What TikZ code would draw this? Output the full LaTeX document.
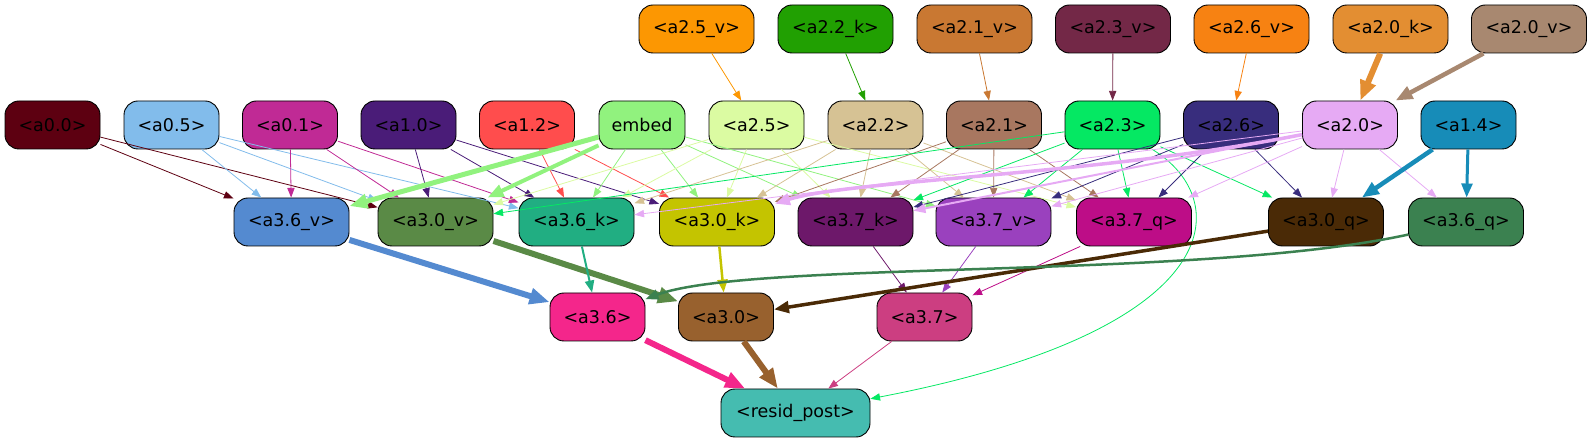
\documentclass[tikz,border=0pt]{standalone}
\usepackage{fontspec}
\setmainfont{DejaVu Sans}
\usetikzlibrary{arrows.meta}
\definecolor{cA00}{HTML}{5D0011}
\definecolor{cA05}{HTML}{82BCEB}
\definecolor{cA01}{HTML}{C02A95}
\definecolor{cA10}{HTML}{4A1C78}
\definecolor{cA12}{HTML}{FF4D4D}
\definecolor{cEmb}{HTML}{91F27E}
\definecolor{cA25}{HTML}{DBFBA2}
\definecolor{cA22}{HTML}{D6C294}
\definecolor{cA21}{HTML}{A87760}
\definecolor{cA23}{HTML}{05E863}
\definecolor{cA26}{HTML}{382D7D}
\definecolor{cA20}{HTML}{E6AAF4}
\definecolor{cA14}{HTML}{178CB8}
\definecolor{cA25v}{HTML}{FC9702}
\definecolor{cA22k}{HTML}{21A002}
\definecolor{cA21v}{HTML}{C97832}
\definecolor{cA23v}{HTML}{732847}
\definecolor{cA26v}{HTML}{F78212}
\definecolor{cA20k}{HTML}{E38E32}
\definecolor{cA20v}{HTML}{A88870}
\definecolor{cA36v}{HTML}{548AD0}
\definecolor{cA30v}{HTML}{5A8A46}
\definecolor{cA36k}{HTML}{21AE82}
\definecolor{cA30k}{HTML}{C4C400}
\definecolor{cA37k}{HTML}{6D186A}
\definecolor{cA37v}{HTML}{9A41BE}
\definecolor{cA37q}{HTML}{BD0D87}
\definecolor{cA30q}{HTML}{4A2A06}
\definecolor{cA36q}{HTML}{3B8150}
\definecolor{cA36}{HTML}{F4268B}
\definecolor{cA30}{HTML}{98612E}
\definecolor{cA37}{HTML}{CC3E81}
\definecolor{cRp}{HTML}{45BCB0}
\begin{document}
\begin{tikzpicture}[x=1pt,y=-1pt,
  nd/.style={draw=black, line width=0.9pt, rounded corners=14pt, minimum height=48pt,
    inner sep=0pt, font=\fontsize{17.5}{20}\selectfont, text=black},
  w95/.style={minimum width=95pt},
  w86/.style={minimum width=86pt},
  w115/.style={minimum width=115pt},
  w149/.style={minimum width=149pt},
  e/.style={-{Triangle[length=8pt 2, width=6pt 1.6]}, line width=0.8pt}]
\useasboundingbox (0,0) rectangle (1591,443);
% top row
\node[nd,w115,fill=cA25v] (a25v) at (696.5,29) {<a2.5\_v>};
\node[nd,w115,fill=cA22k] (a22k) at (835.5,29) {<a2.2\_k>};
\node[nd,w115,fill=cA21v] (a21v) at (974.5,29) {<a2.1\_v>};
\node[nd,w115,fill=cA23v] (a23v) at (1113,29) {<a2.3\_v>};
\node[nd,w115,fill=cA26v] (a26v) at (1251.5,29) {<a2.6\_v>};
\node[nd,w115,fill=cA20k] (a20k) at (1390.5,29) {<a2.0\_k>};
\node[nd,w115,fill=cA20v] (a20v) at (1529,29) {<a2.0\_v>};
% row 2
\node[nd,w95,fill=cA00] (a00) at (52.5,125) {<a0.0>};
\node[nd,w95,fill=cA05] (a05) at (171.5,125) {<a0.5>};
\node[nd,w95,fill=cA01] (a01) at (290,125) {<a0.1>};
\node[nd,w95,fill=cA10] (a10) at (408.5,125) {<a1.0>};
\node[nd,w95,fill=cA12] (a12) at (527,125) {<a1.2>};
\node[nd,w86,fill=cEmb] (emb) at (642,125) {embed};
\node[nd,w95,fill=cA25] (a25) at (756.5,125) {<a2.5>};
\node[nd,w95,fill=cA22] (a22) at (875.5,125) {<a2.2>};
\node[nd,w95,fill=cA21] (a21) at (994,125) {<a2.1>};
\node[nd,w95,fill=cA23] (a23) at (1112.5,125) {<a2.3>};
\node[nd,w95,fill=cA26] (a26) at (1231,125) {<a2.6>};
\node[nd,w95,fill=cA20] (a20) at (1350,125) {<a2.0>};
\node[nd,w95,fill=cA14] (a14) at (1468.5,125) {<a1.4>};
% row 3
\node[nd,w115,fill=cA36v] (a36v) at (291.5,222) {<a3.6\_v>};
\node[nd,w115,fill=cA30v] (a30v) at (435.5,222) {<a3.0\_v>};
\node[nd,w115,fill=cA36k] (a36k) at (576.5,222) {<a3.6\_k>};
\node[nd,w115,fill=cA30k] (a30k) at (717,222) {<a3.0\_k>};
\node[nd,w115,fill=cA37k] (a37k) at (855.5,222) {<a3.7\_k>};
\node[nd,w115,fill=cA37v] (a37v) at (993.5,222) {<a3.7\_v>};
\node[nd,w115,fill=cA37q] (a37q) at (1134,222) {<a3.7\_q>};
\node[nd,w115,fill=cA30q] (a30q) at (1326,222) {<a3.0\_q>};
\node[nd,w115,fill=cA36q] (a36q) at (1466,222) {<a3.6\_q>};
% row 4
\node[nd,w95,fill=cA36] (a36) at (597.5,317) {<a3.6>};
\node[nd,w95,fill=cA30] (a30) at (726,317) {<a3.0>};
\node[nd,w95,fill=cA37] (a37) at (924.5,317) {<a3.7>};
% row 5
\node[nd,w149,fill=cRp] (rp) at (795.5,413) {<resid\_post>};
% top -> row 2
\draw[e,cA25v] (a25v) -- (a25);
\draw[e,cA22k] (a22k) -- (a22);
\draw[e,cA21v] (a21v) -- (a21);
\draw[e,cA23v] (a23v) -- (a23);
\draw[e,cA26v] (a26v) -- (a26);
\draw[e,cA20k,line width=6pt] (a20k) -- (a20);
\draw[e,cA20v,line width=4.5pt] (a20v) -- (a20);
% row 2 -> row 3
\draw[e,cA00] (a00) -- (a36v);
\draw[e,cA00] (a00) -- (a30v);
\draw[e,cA05] (a05) -- (a36v);
\draw[e,cA05] (a05) -- (a30v);
\draw[e,cA05] (a05) -- (a36k);
\draw[e,cA01] (a01) -- (a36v);
\draw[e,cA01] (a01) -- (a30v);
\draw[e,cA01] (a01) -- (a36k);
\draw[e,cA10] (a10) -- (a30v);
\draw[e,cA10] (a10) -- (a36k);
\draw[e,cA10] (a10) -- (a30k);
\draw[e,cA12] (a12) -- (a36k);
\draw[e,cA12] (a12) -- (a30k);
\draw[e,cEmb,line width=5pt] (emb) -- (a36v);
\draw[e,cEmb,line width=4pt] (emb) -- (a30v);
\draw[e,cEmb] (emb) -- (a36k);
\draw[e,cEmb] (emb) -- (a30k);
\draw[e,cEmb] (emb) -- (a37k);
\draw[e,cEmb] (emb) -- (a37v);
\draw[e,cA25] (a25) -- (a30v);
\draw[e,cA25] (a25) -- (a36k);
\draw[e,cA25] (a25) -- (a30k);
\draw[e,cA25] (a25) -- (a37k);
\draw[e,cA25] (a25) -- (a37q);
\draw[e,cA22] (a22) -- (a36k);
\draw[e,cA22] (a22) -- (a30k);
\draw[e,cA22] (a22) -- (a37k);
\draw[e,cA22] (a22) -- (a37v);
\draw[e,cA22] (a22) -- (a37q);
\draw[e,cA21] (a21) -- (a30k);
\draw[e,cA21] (a21) -- (a37k);
\draw[e,cA21] (a21) -- (a37v);
\draw[e,cA21] (a21) -- (a37q);
\draw[e,cA23] (a23) -- (a30v);
\draw[e,cA23] (a23) -- (a37k);
\draw[e,cA23] (a23) -- (a37v);
\draw[e,cA23] (a23) -- (a37q);
\draw[e,cA23] (a23) -- (a30q);
\draw[e,cA23] (a23) .. controls (1235,200) and (1230,330) .. (rp);
\draw[e,cA26] (a26) -- (a37k);
\draw[e,cA26] (a26) -- (a37v);
\draw[e,cA26] (a26) -- (a37q);
\draw[e,cA26] (a26) -- (a30q);
\draw[e,cA20] (a20) -- (a36k);
\draw[e,cA20,line width=3.5pt] (a20) .. controls (1100,175) and (850,180) .. (a30k);
\draw[e,cA20,line width=2pt] (a20) -- (a37k);
\draw[e,cA20] (a20) -- (a37v);
\draw[e,cA20] (a20) -- (a37q);
\draw[e,cA20] (a20) -- (a30q);
\draw[e,cA20] (a20) -- (a36q);
\draw[e,cA14,line width=4.5pt] (a14) -- (a30q);
\draw[e,cA14,line width=3pt] (a14) -- (a36q);
% row 3 -> row 4
\draw[e,cA36v,line width=6pt] (a36v) -- (a36);
\draw[e,cA30v,line width=6pt] (a30v) -- (a30);
\draw[e,cA36k,line width=2pt] (a36k) -- (a36);
\draw[e,cA30k,line width=2.5pt] (a30k) -- (a30);
\draw[e,cA37k] (a37k) -- (a37);
\draw[e,cA37v] (a37v) -- (a37);
\draw[e,cA37q] (a37q) -- (a37);
\draw[e,cA30q,line width=3.5pt] (a30q) -- (a30);
\draw[e,cA36q,line width=2.5pt] (a36q) .. controls (1200,280) and (750,260) .. (a36);
% row 4 -> row 5
\draw[e,cA36,line width=6pt] (a36) -- (rp);
\draw[e,cA30,line width=6pt] (a30) -- (rp);
\draw[e,cA37] (a37) -- (rp);
\end{tikzpicture}
\end{document}
